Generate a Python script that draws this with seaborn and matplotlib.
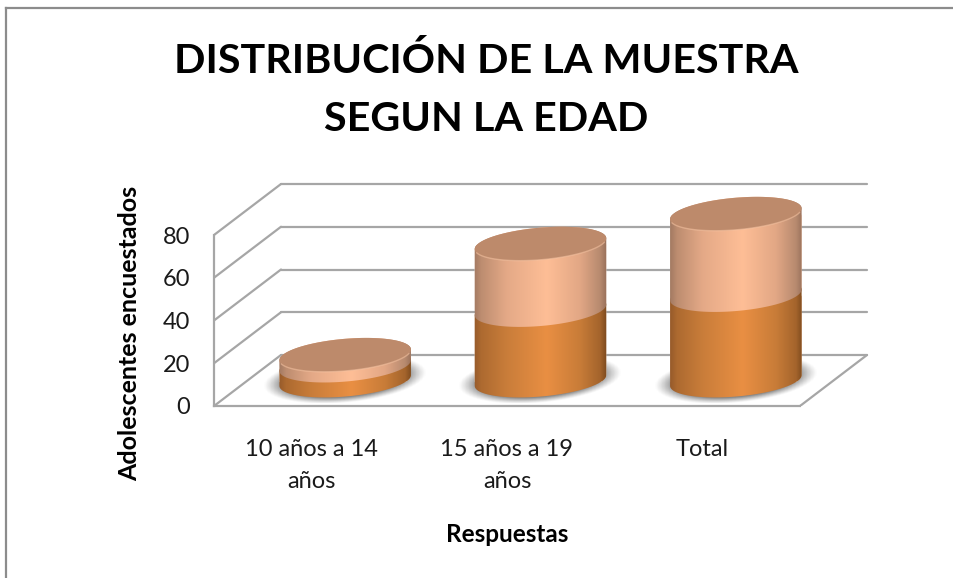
import numpy as np
import pandas as pd
import matplotlib
matplotlib.use("Agg")
import matplotlib.pyplot as plt
from matplotlib.lines import Line2D
from matplotlib.path import Path
from matplotlib.patches import PathPatch
from matplotlib.transforms import Affine2D
from matplotlib.colors import LinearSegmentedColormap
import seaborn as sns

# ==========================================
# DATA
# ==========================================

categories = ["10 años a 14\naños", "15 años a 19\naños", "Total"]
serie_baja = [7, 33, 40]
serie_alta = [5, 31, 38]
y_ticks = [0, 20, 40, 60, 80]

titulo = "DISTRIBUCIÓN DE LA MUESTRA\nSEGUN LA EDAD"
y_label = "Adolescentes encuestados"
x_label = "Respuestas"

# ==========================================
# LAYOUT (pixels)
# ==========================================

W, H = 954, 578
LEFT, RIGHT_FRONT, FLOOR = 214, 800, 406
PX_X = (RIGHT_FRONT - LEFT) / 3      # px per category
PX_Y = 171 / 80                      # px per unit
DEPTH_X, DEPTH_Y = 67, 51
AX_RIGHT, AX_TOP = 880, 150
A, B, TILT = 66, 16, np.radians(5)

sns.set_theme(style="white")
plt.rcParams["font.family"] = ["Lato", "DejaVu Sans"]

fig = plt.figure(figsize=(W / 100, H / 100), dpi=100)
ax = fig.add_axes([
    LEFT / W,
    (H - FLOOR) / H,
    (AX_RIGHT - LEFT) / W,
    (FLOOR - AX_TOP) / H
])
ax.patch.set_alpha(0)

df = pd.DataFrame({"cat": categories, "baja": serie_baja, "alta": serie_alta})

# ==========================================
# BARS
# ==========================================

sns.barplot(data=df, x="cat", y="baja", color="#e68d42", width=132 / PX_X,
            ax=ax, zorder=3)
sns.barplot(data=df, x="cat", y="alta", bottom=df["baja"], color="#fdbd95",
            width=132 / PX_X, ax=ax, zorder=3)

ax.set_xlim(-0.5, -0.5 + (AX_RIGHT - LEFT) / PX_X)
ax.set_ylim(0, (FLOOR - AX_TOP) / PX_Y)

# mid depth of the 3D box, in screen pixels
mid = ax.transData + Affine2D().translate(DEPTH_X / 2, DEPTH_Y / 2)

grad_baja = LinearSegmentedColormap.from_list("baja", [
    (0.00, "#93582a"), (0.06, "#ad6a30"), (0.25, "#c97d3a"),
    (0.55, "#e98f43"), (0.80, "#c87c38"), (0.95, "#a4642c"), (1.00, "#7c4a1e")
])
grad_alta = LinearSegmentedColormap.from_list("alta", [
    (0.00, "#9f7760"), (0.06, "#bd8d70"), (0.25, "#e4a987"),
    (0.55, "#febe96"), (0.80, "#e2a785"), (0.95, "#b78a6f"), (1.00, "#98705a")
])
ramp = np.linspace(0, 1, 256).reshape(1, -1)


def ellipse(cx, level, t):
    x = A * np.cos(t) * np.cos(TILT) - B * np.sin(t) * np.sin(TILT)
    y = A * np.cos(t) * np.sin(TILT) + B * np.sin(t) * np.cos(TILT)
    return np.column_stack([cx + x / PX_X, level + y / PX_Y])


T_R = np.arctan(-(B / A) * np.tan(TILT))
arriba = np.linspace(T_R, T_R + np.pi, 80)
abajo = np.linspace(T_R + np.pi, T_R + 2 * np.pi, 80)
vuelta = np.linspace(0, 2 * np.pi, 160)


def shadow(cx):
    # soft grey blob on the floor behind each cylinder
    n = 120
    yy, xx = np.mgrid[1:-1:n * 1j, -1:1:n * 1j]
    r = np.sqrt(xx ** 2 + (yy - 0.28 * xx) ** 2)
    rgba = np.zeros((n, n, 4))
    rgba[..., :3] = 0.35
    rgba[..., 3] = 0.75 * np.clip((1 - r) / 0.25, 0, 1) ** 1.2
    ax.imshow(rgba, aspect="auto", zorder=2, transform=mid,
              extent=[cx - 82 / PX_X, cx + 82 / PX_X,
                      -23 / PX_Y, 25 / PX_Y])


def segmento(cx, y0, y1, cmap, bar, z):
    pts = np.vstack([ellipse(cx, y0, abajo), ellipse(cx, y1, arriba)])
    path = Path(np.vstack([pts, pts[0]]), closed=True)
    bar.set_transform(mid)
    bar.set_clip_path(path, mid)
    half = 67 / PX_X
    im = ax.imshow(ramp, cmap=cmap, aspect="auto", zorder=z, transform=mid,
                   extent=[cx - half, cx + half, y0 - 30 / PX_Y, y1 + 30 / PX_Y])
    im.set_clip_path(path, mid)


bars = list(ax.patches)
n_cat = len(categories)

for i in range(n_cat):
    cx = bars[i].get_x() + bars[i].get_width() / 2
    shadow(cx)
    alto1 = bars[i].get_height()
    alto2 = alto1 + bars[i + n_cat].get_height()
    segmento(cx, 0, alto1, grad_baja, bars[i], 4)
    segmento(cx, alto1, alto2, grad_alta, bars[i + n_cat], 5)

    # top cap with a lighter front rim
    ax.add_patch(PathPatch(Path(ellipse(cx, alto2, vuelta)), transform=mid,
                           facecolor="#bd8a6b", edgecolor="none", zorder=6))
    ax.plot(*ellipse(cx, alto2, abajo[6:74]).T, transform=mid, color="#f6c4a3",
            lw=1.0, alpha=0.55, zorder=7, solid_capstyle="round")

ax.set_xlim(-0.5, -0.5 + (AX_RIGHT - LEFT) / PX_X)
ax.set_ylim(0, (FLOOR - AX_TOP) / PX_Y)

# ==========================================
# WALLS AND FLOOR
# ==========================================

gris = "#a6a6a6"
back = ax.transData + Affine2D().translate(DEPTH_X, DEPTH_Y)
for t in y_ticks:
    ax.plot([-0.5, 2.5], [t, t], transform=back, color=gris, lw=1.6, zorder=1,
            clip_on=False)
    sx, sy = ax.transData.transform((-0.5, t))
    ax.add_line(Line2D([sx, sx + DEPTH_X], [sy, sy + DEPTH_Y], color=gris,
                       lw=1.6, zorder=1, transform=None))

sx, sy = ax.transData.transform((2.5, 0))
ax.add_line(Line2D([sx, sx + DEPTH_X], [sy, sy + DEPTH_Y], color=gris, lw=1.6,
                   zorder=1, transform=None))

for lado in ["top", "right"]:
    ax.spines[lado].set_visible(False)
for lado in ["left", "bottom"]:
    ax.spines[lado].set_color(gris)
    ax.spines[lado].set_linewidth(1.6)
ax.spines["left"].set_bounds(0, 80)
ax.spines["bottom"].set_bounds(-0.5, 2.5)

# ==========================================
# TEXT
# ==========================================

ax.set_yticks(y_ticks)
ax.set_xticks(range(n_cat))
ax.set_xticklabels(categories, linespacing=1.65)
ax.tick_params(axis="y", labelsize=17, length=0, pad=17, colors="#1a1a1a")
ax.tick_params(axis="x", labelsize=17, length=0, pad=24, colors="#1a1a1a")

ax.set_ylabel(y_label, fontsize=18, fontweight="bold", color="black")
ax.set_xlabel(x_label, fontsize=17.5, fontweight="bold", color="black")
ax.yaxis.set_label_coords((130 - LEFT) / (AX_RIGHT - LEFT), (FLOOR - 333) / (FLOOR - AX_TOP))
ax.xaxis.set_label_coords((507 - LEFT) / (AX_RIGHT - LEFT), (FLOOR - 534) / (FLOOR - AX_TOP))
ax.xaxis.label.set_verticalalignment("center")
ax.yaxis.label.set_verticalalignment("center")

fig.text(486 / W, 1 - 90 / H, titulo, ha="center", va="center", fontsize=29.7,
         fontweight="bold", color="black", linespacing=1.68)

# chart frame, only top and left show up in the crop
fig.add_artist(Line2D([6 / W, 6 / W], [0, 1 - 8 / H], color="#8c8c8c", lw=1.6,
                      solid_capstyle="projecting"))
fig.add_artist(Line2D([6 / W, 1], [1 - 8 / H, 1 - 8 / H], color="#8c8c8c", lw=1.6,
                      solid_capstyle="projecting"))

plt.savefig("out.png", dpi=100)
